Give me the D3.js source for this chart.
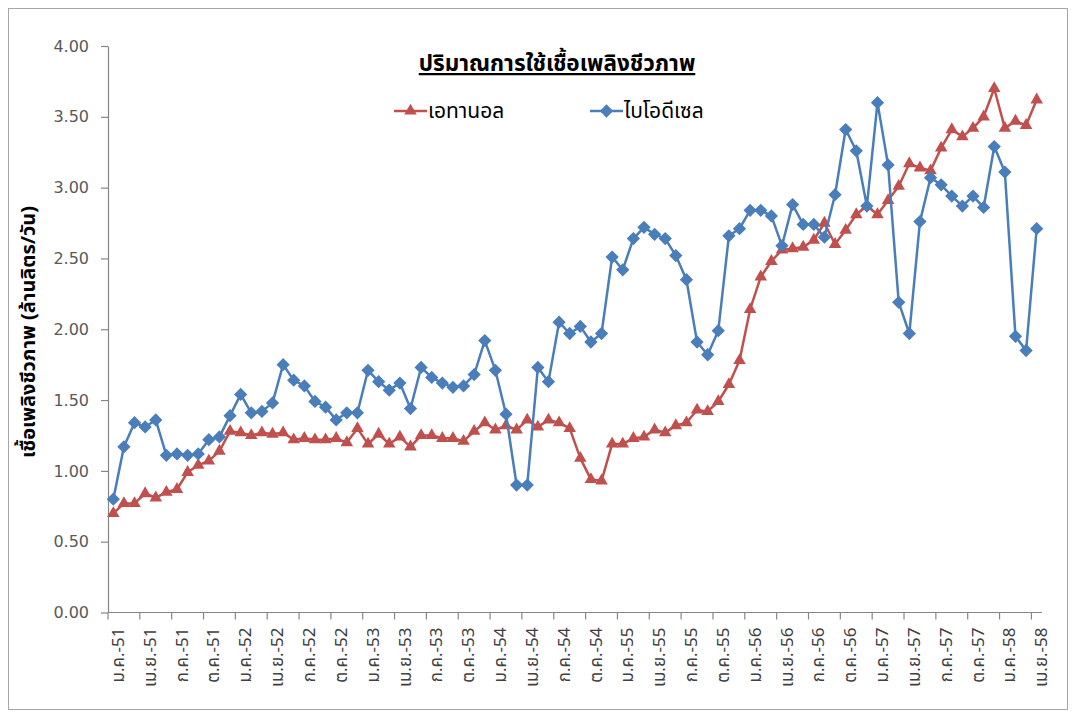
<!DOCTYPE html>
<html>
<head>
<meta charset="utf-8">
<script src="https://cdnjs.cloudflare.com/ajax/libs/d3/7.8.5/d3.min.js"></script>
<style>
  html, body { margin: 0; padding: 0; background: #ffffff; }
  svg { display: block; }
  .thai { font-family: "Noto Sans Thai", "Tahoma", "Leelawadee UI", "Loma", "Garuda", "DejaVu Sans", sans-serif; }
</style>
</head>
<body>
<svg id="chart" width="1076" height="718"></svg>
<script>
// Thai month abbreviations and Buddhist-era years (2551–2558)
const monthNames = ["ม.ค.", "ก.พ.", "มี.ค.", "เม.ย.", "พ.ค.", "มิ.ย.", "ก.ค.", "ส.ค.", "ก.ย.", "ต.ค.", "พ.ย.", "ธ.ค."];
const years = ["51", "52", "53", "54", "55", "56", "57", "58"];
const lastYearMonths = 4; // data runs to เม.ย.-58

// Monthly categories
const categories = [];
years.forEach((yy, yi) => {
  const n = yi === years.length - 1 ? lastYearMonths : 12;
  for (let m = 0; m < n; m++) categories.push(monthNames[m] + "-" + yy);
});

// Ethanol use (million litres/day)
const ethanol = [
  0.70, 0.77, 0.77, 0.84, 0.81, 0.85, 0.87, 0.99, 1.04, 1.07, 1.14, 1.28,
  1.27, 1.25, 1.27, 1.26, 1.27, 1.22, 1.23, 1.22, 1.22, 1.23, 1.20, 1.30,
  1.19, 1.26, 1.19, 1.24, 1.17, 1.25, 1.25, 1.23, 1.23, 1.21, 1.28, 1.34,
  1.29, 1.32, 1.29, 1.36, 1.31, 1.36, 1.34, 1.30, 1.09, 0.94, 0.93, 1.19,
  1.19, 1.23, 1.24, 1.29, 1.27, 1.32, 1.34, 1.43, 1.42, 1.49, 1.61, 1.78,
  2.14, 2.37, 2.48, 2.56, 2.57, 2.58, 2.63, 2.75, 2.60, 2.70, 2.81, 2.87,
  2.81, 2.91, 3.01, 3.17, 3.14, 3.12, 3.28, 3.41, 3.36, 3.42, 3.50, 3.70,
  3.42, 3.47, 3.44, 3.62
];

// Biodiesel use (million litres/day)
const biodiesel = [
  0.80, 1.17, 1.34, 1.31, 1.36, 1.11, 1.12, 1.11, 1.12, 1.22, 1.24, 1.39,
  1.54, 1.41, 1.42, 1.48, 1.75, 1.64, 1.60, 1.49, 1.45, 1.36, 1.41, 1.41,
  1.71, 1.63, 1.57, 1.62, 1.44, 1.73, 1.66, 1.62, 1.59, 1.60, 1.68, 1.92,
  1.71, 1.40, 0.90, 0.90, 1.73, 1.63, 2.05, 1.97, 2.02, 1.91, 1.97, 2.51,
  2.42, 2.64, 2.72, 2.67, 2.64, 2.52, 2.35, 1.91, 1.82, 1.99, 2.66, 2.71,
  2.84, 2.84, 2.80, 2.59, 2.88, 2.74, 2.74, 2.65, 2.95, 3.41, 3.26, 2.87,
  3.60, 3.16, 2.19, 1.97, 2.76, 3.07, 3.02, 2.94, 2.87, 2.94, 2.86, 3.29,
  3.11, 1.95, 1.85, 2.71
];

// Y axis ticks
const yTicks = [0, 0.5, 1, 1.5, 2, 2.5, 3, 3.5, 4];

const titleText = "ปริมาณการใช้เชื้อเพลิงชีวภาพ";
const yTitleText = "เชื้อเพลิงชีวภาพ (ล้านลิตร/วัน)";
const seriesNames = ["เอทานอล", "ไบโอดีเซล"];

const colEthanol = "#C0504D";
const colBiodiesel = "#4A7EBB";
const axisCol = "#868686";
const tickTextCol = "#595959";

const svg = d3.select("#chart");

// Outer chart border
svg.append("rect")
  .attr("x", 8.5).attr("y", 8.5)
  .attr("width", 1059).attr("height", 701)
  .attr("fill", "#ffffff")
  .attr("stroke", "#a6a6a6").attr("stroke-width", 1);

const plot = { left: 108, right: 1042, top: 46, bottom: 612.5 };

const x = d3.scaleBand()
  .domain(categories)
  .range([plot.left, plot.right])
  .paddingInner(0).paddingOuter(0);

const y = d3.scaleLinear()
  .domain([0, 4])
  .range([plot.bottom, plot.top]);

const cx = d => x(d) + x.bandwidth() / 2;

// Y axis
const yAxis = svg.append("g")
  .attr("transform", `translate(${plot.left},0)`)
  .call(d3.axisLeft(y).tickValues(yTicks).tickFormat(d3.format(".2f")).tickSize(7).tickPadding(12).tickSizeOuter(0));
yAxis.select(".domain").attr("stroke", axisCol).attr("stroke-width", 1.2);
yAxis.selectAll(".tick line").attr("stroke", axisCol).attr("stroke-width", 1.2);
yAxis.selectAll(".tick text")
  .attr("fill", tickTextCol)
  .style("font-family", "'DejaVu Sans', sans-serif")
  .style("font-size", "16px");

// X axis: baseline, ticks at every third category boundary, rotated labels
const labelCats = categories.filter((d, i) => i % 3 === 0);
const xAxis = svg.append("g");
xAxis.append("line")
  .attr("x1", plot.left).attr("x2", plot.right)
  .attr("y1", plot.bottom).attr("y2", plot.bottom)
  .attr("stroke", axisCol).attr("stroke-width", 1.2);
xAxis.selectAll("line.tick")
  .data(labelCats)
  .join("line")
  .attr("class", "tick")
  .attr("x1", d => x(d)).attr("x2", d => x(d))
  .attr("y1", plot.bottom).attr("y2", plot.bottom + 7)
  .attr("stroke", axisCol).attr("stroke-width", 1.2);
xAxis.selectAll("text")
  .data(labelCats)
  .join("text")
  .attr("class", "thai")
  .attr("transform", d => `translate(${x(d) + 10},${plot.bottom + 15}) rotate(-90)`)
  .attr("text-anchor", "end")
  .attr("dy", "0.35em")
  .attr("fill", "#404040")
  .style("font-size", "17px")
  .text(d => d);

// Y axis title
svg.append("text")
  .attr("class", "thai")
  .attr("transform", `translate(28,332) rotate(-90)`)
  .attr("text-anchor", "middle")
  .attr("dy", "0.35em")
  .attr("fill", "#000000")
  .style("font-size", "20px")
  .style("font-weight", "bold")
  .text(yTitleText);

// Title
svg.append("text")
  .attr("class", "thai")
  .attr("x", 557).attr("y", 71)
  .attr("text-anchor", "middle")
  .attr("fill", "#000000")
  .style("font-size", "22.5px")
  .style("font-weight", "bold")
  .style("text-decoration", "underline")
  .text(titleText);

// Series
const series = [
  { name: seriesNames[0], values: ethanol, color: colEthanol, shape: "triangle" },
  { name: seriesNames[1], values: biodiesel, color: colBiodiesel, shape: "diamond" }
];

const markerPath = shape => shape === "triangle"
  ? d3.symbol(d3.symbolTriangle, 68)()
  : d3.symbol(d3.symbolSquare, 88)();
const markerRot = shape => shape === "diamond" ? " rotate(45)" : "";

const line = d3.line()
  .x((d, i) => cx(categories[i]))
  .y(d => y(d));

series.forEach(s => {
  const g = svg.append("g");
  g.append("path")
    .datum(s.values)
    .attr("d", line)
    .attr("fill", "none")
    .attr("stroke", s.color)
    .attr("stroke-width", 2.5)
    .attr("stroke-linejoin", "round");
  g.selectAll("path.mk")
    .data(s.values)
    .join("path")
    .attr("class", "mk")
    .attr("d", markerPath(s.shape))
    .attr("transform", (d, i) => `translate(${cx(categories[i])},${y(d)})${markerRot(s.shape)}`)
    .attr("fill", s.color);
});

// Legend
const legendItems = [
  { s: series[0], x: 394, y: 111 },
  { s: series[1], x: 590, y: 111 }
];
legendItems.forEach(li => {
  const g = svg.append("g").attr("transform", `translate(${li.x},${li.y})`);
  g.append("line")
    .attr("x1", 0).attr("x2", 33).attr("y1", 0).attr("y2", 0)
    .attr("stroke", li.s.color).attr("stroke-width", 2.5);
  g.append("path")
    .attr("d", markerPath(li.s.shape))
    .attr("transform", `translate(16.5,0)${markerRot(li.s.shape)}`)
    .attr("fill", li.s.color);
  g.append("text")
    .attr("class", "thai")
    .attr("x", 34).attr("y", 0)
    .attr("dy", "0.35em")
    .attr("fill", "#000000")
    .style("font-size", "21px")
    .text(li.s.name);
});
</script>
</body>
</html>
